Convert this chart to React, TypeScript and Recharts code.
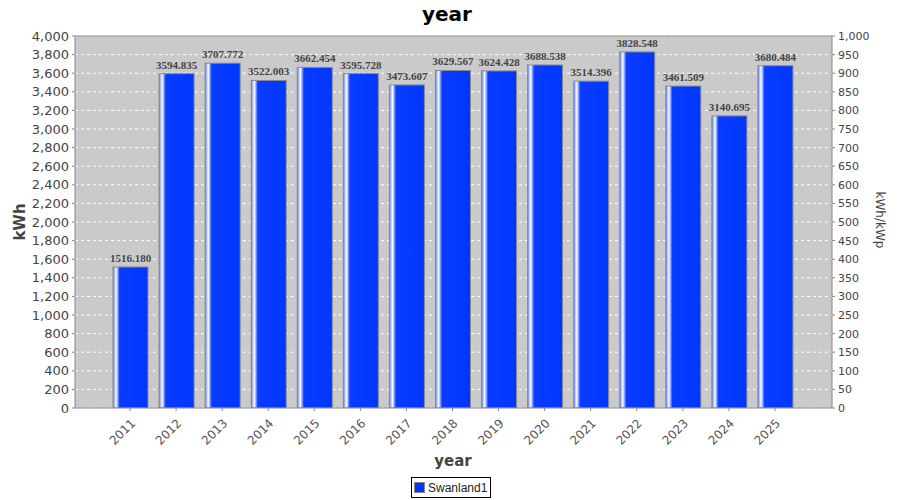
import React from 'react';
import { BarChart, Bar, XAxis, YAxis, CartesianGrid, LabelList, ReferenceLine } from 'recharts';

const years = ['2011', '2012', '2013', '2014', '2015', '2016', '2017', '2018', '2019', '2020', '2021', '2022', '2023', '2024', '2025'];
const energy = [1516.18, 3594.835, 3707.772, 3522.003, 3662.454, 3595.728, 3473.607, 3629.567, 3624.428, 3688.538, 3514.396, 3828.548, 3461.509, 3140.695, 3680.484];
const leftTicks = [0, 200, 400, 600, 800, 1000, 1200, 1400, 1600, 1800, 2000, 2200, 2400, 2600, 2800, 3000, 3200, 3400, 3600, 3800, 4000];
const rightTicks = [0, 50, 100, 150, 200, 250, 300, 350, 400, 450, 500, 550, 600, 650, 700, 750, 800, 850, 900, 950, 1000];
const seriesName = 'Swanland1';
const chartTitle = 'year';
const xLabel = 'year';
const leftLabel = 'kWh';
const rightLabel = 'kWh/kWp';

const data = years.map((y, i) => ({ year: y, value: energy[i] }));

const fmt = (v: number) => v.toLocaleString('en-US');

const BarShape = (props: any) => {
  const { x, y, width, height } = props;
  if (height <= 0) return null;
  return (
    <rect x={x} y={y} width={width} height={height} fill="url(#barGrad)" stroke="#8a8a8a" strokeWidth={1} />
  );
};

const XTick = (props: any) => {
  const { x, y, payload } = props;
  return (
    <text
      x={x + 6}
      y={y + 11}
      transform={`rotate(-45, ${x + 6}, ${y + 11})`}
      textAnchor="end"
      fontSize={12}
      fill="#555"
      fontFamily="'DejaVu Sans', sans-serif"
    >
      {payload.value}
    </text>
  );
};

export default function App() {
  return (
    <div style={{ position: 'absolute', left: 0, top: 0, width: 900, height: 500, background: '#fff', fontFamily: "'DejaVu Sans', sans-serif" }}>
      <BarChart
        width={900}
        height={500}
        data={data}
        margin={{ top: 36, right: 0, bottom: 42, left: 0 }}
        barSize={35}
      >
        <defs>
          <linearGradient id="barGrad" x1="0" y1="0" x2="1" y2="0">
            <stop offset="0%" stopColor="#5a78ff" />
            <stop offset="5%" stopColor="#b8c6ff" />
            <stop offset="9%" stopColor="#ffffff" />
            <stop offset="13%" stopColor="#9ab0ff" />
            <stop offset="19%" stopColor="#0a3cff" />
            <stop offset="100%" stopColor="#0036ff" />
          </linearGradient>
        </defs>
        <CartesianGrid
          yAxisId="left"
          vertical={false}
          stroke="#ffffff"
          strokeDasharray="3 3"
          fill="#cacaca"
          fillOpacity={1}
        />
        <XAxis
          dataKey="year"
          height={50}
          padding={{ left: 32, right: 34 }}
          tick={<XTick />}
          tickLine={{ stroke: '#888' }}
          tickSize={3}
          axisLine={{ stroke: '#888' }}
          interval={0}
        />
        <YAxis
          yAxisId="left"
          orientation="left"
          width={75}
          domain={[0, 4000]}
          ticks={leftTicks}
          tickFormatter={fmt}
          tick={{ fontSize: 13, fill: '#444', fontFamily: "'DejaVu Sans', sans-serif" }}
          tickLine={{ stroke: '#888' }}
          tickSize={3}
          tickMargin={3}
          axisLine={{ stroke: '#888' }}
          interval={0}
          allowDataOverflow
        />
        <YAxis
          yAxisId="right"
          orientation="right"
          width={68}
          domain={[0, 1000]}
          ticks={rightTicks}
          tickFormatter={fmt}
          tick={{ fontSize: 11, fill: '#444', fontFamily: "'DejaVu Sans', sans-serif", textAnchor: 'start' }}
          tickLine={{ stroke: '#888' }}
          tickSize={3}
          tickMargin={3}
          axisLine={{ stroke: '#888' }}
          interval={0}
          allowDataOverflow
        />
        <ReferenceLine yAxisId="left" y={4000} stroke="#888" strokeWidth={1} />
        <Bar yAxisId="left" dataKey="value" name={seriesName} shape={<BarShape />} isAnimationActive={false}>
          <LabelList
            dataKey="value"
            position="top"
            offset={5}
            formatter={(v: any) => Number(v).toFixed(3)}
            style={{ fontFamily: "'Liberation Serif', 'DejaVu Serif', serif", fontWeight: 'bold', fontSize: 11, fill: '#444' }}
          />
        </Bar>
      </BarChart>
      <div style={{ position: 'absolute', left: 0, top: 2, width: 900, textAlign: 'center', fontSize: 20, fontWeight: 'bold', color: '#000' }}>
        <span style={{ position: 'relative', left: -3 }}>{chartTitle}</span>
      </div>
      <div style={{ position: 'absolute', left: 403, top: 452, width: 100, textAlign: 'center', fontSize: 15, fontWeight: 'bold', color: '#444' }}>{xLabel}</div>
      <div style={{ position: 'absolute', left: 20, top: 222, transform: 'translate(-50%, -50%) rotate(-90deg)', fontSize: 15, fontWeight: 'bold', color: '#444', whiteSpace: 'nowrap' }}>{leftLabel}</div>
      <div style={{ position: 'absolute', left: 880, top: 220, transform: 'translate(-50%, -50%) rotate(90deg)', fontSize: 12, color: '#444', whiteSpace: 'nowrap' }}>{rightLabel}</div>
      <div style={{ position: 'absolute', left: 411, top: 477, height: 21, border: '1px solid #000', display: 'flex', alignItems: 'center', padding: '0 3px 0 2px', fontSize: 12, fontFamily: "'Liberation Sans', Arial, sans-serif", color: '#222', boxSizing: 'border-box', whiteSpace: 'nowrap' }}>
        <span style={{ display: 'inline-block', width: 9, height: 9, background: '#0036ff', border: '1px solid #888', marginRight: 3, flex: 'none' }} />
        {seriesName}
      </div>
    </div>
  );
}
